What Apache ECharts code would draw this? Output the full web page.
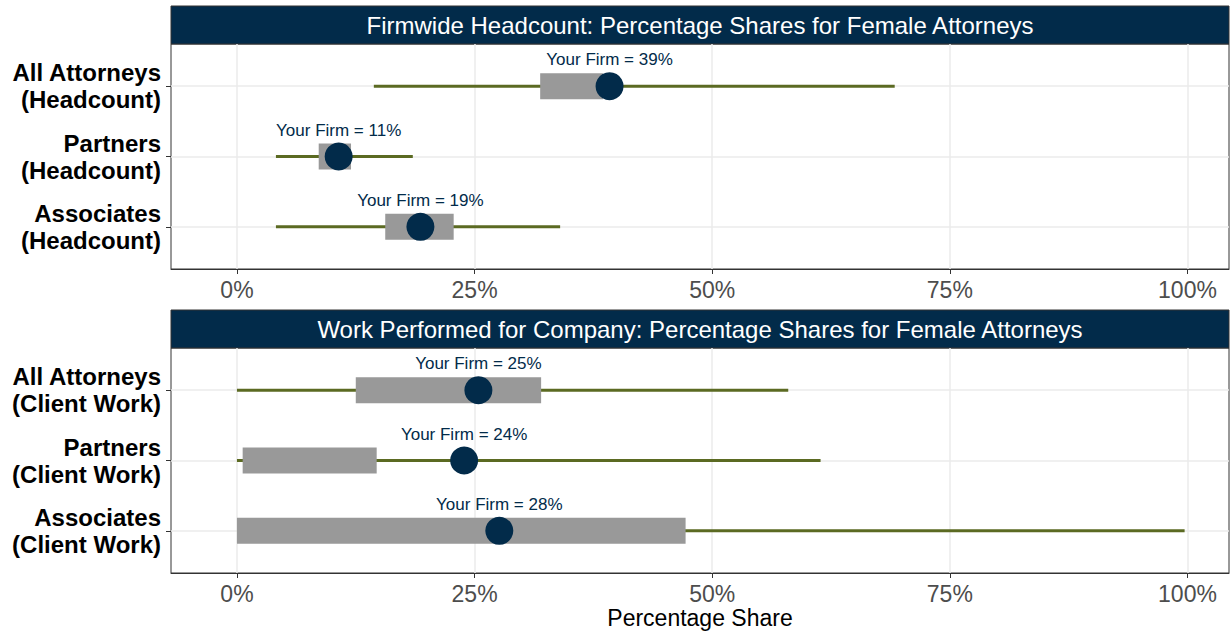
<!DOCTYPE html>
<html>
<head>
<meta charset="utf-8">
<script src="https://cdn.jsdelivr.net/npm/echarts@6/dist/echarts.min.js"></script>
<style>
  html, body { margin: 0; padding: 0; background: #fff; }
  #chart { width: 1230px; height: 633px; }
</style>
</head>
<body>
<div id="chart"></div>
<script>
// panel titles
const panelTitles = [
  'Firmwide Headcount: Percentage Shares for Female Attorneys',
  'Work Performed for Company: Percentage Shares for Female Attorneys'
];
// rows
const hcRows = ['All Attorneys\n(Headcount)', 'Partners\n(Headcount)', 'Associates\n(Headcount)'];
const cwRows = ['All Attorneys\n(Client Work)', 'Partners\n(Client Work)', 'Associates\n(Client Work)'];
// headcount panel (percent)
const hcMin = [14.4, 4.1, 4.1];
const hcMax = [69.2, 18.5, 34.0];
const hcQ1 = [31.9, 8.6, 15.6];
const hcQ3 = [38.5, 12.0, 22.8];
const hcFirm = [39.2, 10.7, 19.3];
// client work panel (percent)
const cwMin = [0, 0, 0];
const cwMax = [58.0, 61.4, 99.7];
const cwQ1 = [12.5, 0.6, 0];
const cwQ3 = [32.0, 14.7, 47.2];
const cwFirm = [25.4, 23.9, 27.6];
// x ticks
const xTicks = [0, 25, 50, 75, 100];

const NAVY = '#022b4a';
const OLIVE = '#5b6a22';
const FONT = '"Liberation Sans", Arial, Helvetica, sans-serif';

const chart = echarts.init(document.getElementById('chart'), null, { renderer: 'svg' });

const grids = [
  { left: 171, top: 44, width: 1058, height: 225 },
  { left: 171, top: 348, width: 1058, height: 225 }
];

function xAxisFor(i) {
  return {
    type: 'value', gridIndex: i, min: -6.94, max: 104.37,
    axisLine: { show: true, onZero: false, lineStyle: { color: '#333', width: 1 } },
    axisTick: { show: true, length: 5, customValues: xTicks, lineStyle: { color: '#333' } },
    axisLabel: {
      customValues: xTicks, margin: 9, fontSize: 23, color: '#4d4d4d', fontFamily: FONT,
      formatter: v => v + '%'
    },
    splitLine: { show: true, lineStyle: { color: '#ebebeb', width: 1.5 } },
    name: i === 1 ? 'Percentage Share' : '',
    nameLocation: 'middle', nameGap: 33,
    nameTextStyle: { fontSize: 23, color: '#000', fontFamily: FONT }
  };
}

function yAxisFor(i, rows) {
  return {
    type: 'value', gridIndex: i, inverse: true, min: -0.6, max: 2.6,
    axisLine: { show: false, onZero: false },
    axisTick: { show: true, length: 5, customValues: [0, 1, 2], lineStyle: { color: '#333' } },
    axisLabel: {
      customValues: [0, 1, 2], margin: 10, fontSize: 24, fontWeight: 'bold', color: '#000',
      fontFamily: FONT, lineHeight: 27, align: 'right',
      formatter: v => rows[v]
    },
    splitLine: { show: true, lineStyle: { color: '#ebebeb', width: 1.5 } }
  };
}

function whiskerSeries(i, mins, maxs) {
  return {
    type: 'custom', xAxisIndex: i, yAxisIndex: i, z: 2, silent: true,
    data: mins.map((m, k) => [m, maxs[k], k]),
    renderItem: (params, api) => {
      const a = api.coord([api.value(0), api.value(2)]);
      const b = api.coord([api.value(1), api.value(2)]);
      return { type: 'line', shape: { x1: a[0], y1: a[1], x2: b[0], y2: b[1] },
        style: { stroke: OLIVE, lineWidth: 3 } };
    }
  };
}

function boxSeries(i, q1, q3) {
  return {
    type: 'custom', xAxisIndex: i, yAxisIndex: i, z: 3, silent: true,
    data: q1.map((m, k) => [m, q3[k], k]),
    renderItem: (params, api) => {
      const a = api.coord([api.value(0), api.value(2)]);
      const b = api.coord([api.value(1), api.value(2)]);
      const h = 26;
      return { type: 'rect', shape: { x: a[0], y: a[1] - h / 2, width: b[0] - a[0], height: h },
        style: { fill: '#999999' } };
    }
  };
}

function firmSeries(i, firm) {
  return {
    type: 'scatter', xAxisIndex: i, yAxisIndex: i, z: 4, silent: true,
    symbol: 'circle', symbolSize: 28,
    itemStyle: { color: NAVY, opacity: 1 },
    data: firm.map((v, k) => [v, k]),
    label: {
      show: true, position: 'top', distance: 4, fontSize: 17, color: NAVY, fontFamily: FONT,
      formatter: p => 'Your Firm = ' + Math.round(p.value[0]) + '%'
    }
  };
}

const strips = grids.map((g, i) => ({
  type: 'group',
  children: [
    { type: 'rect', shape: { x: g.left, y: g.top - 38, width: g.width, height: 38 },
      style: { fill: NAVY, stroke: '#333', lineWidth: 1 } },
    { type: 'text', x: g.left + g.width / 2, y: g.top - 19,
      style: { text: panelTitles[i], fill: '#fff', fontSize: 24, fontFamily: FONT,
        textAlign: 'center', textVerticalAlign: 'middle' } }
  ]
}));

chart.setOption({
  backgroundColor: '#fff',
  animation: false,
  textStyle: { fontFamily: FONT },
  grid: grids.map(g => Object.assign({ show: true, borderColor: '#333', borderWidth: 1,
    backgroundColor: 'transparent' }, g)),
  xAxis: [xAxisFor(0), xAxisFor(1)],
  yAxis: [yAxisFor(0, hcRows), yAxisFor(1, cwRows)],
  graphic: strips,
  series: [
    whiskerSeries(0, hcMin, hcMax), boxSeries(0, hcQ1, hcQ3), firmSeries(0, hcFirm),
    whiskerSeries(1, cwMin, cwMax), boxSeries(1, cwQ1, cwQ3), firmSeries(1, cwFirm)
  ]
});
</script>
</body>
</html>
